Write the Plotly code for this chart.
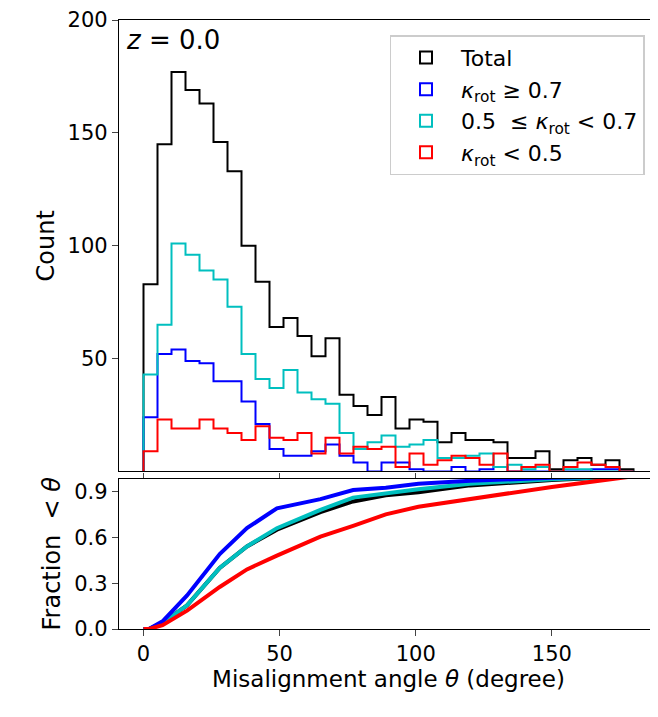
import numpy as np
import plotly.graph_objects as go
from plotly.subplots import make_subplots

# histogram bins: 35 bins between 0 and 180 degrees
bin_edges = np.linspace(0, 180, 36)

total = [83, 145, 177, 169, 163, 146, 133, 100, 84, 64, 68, 60, 51, 59, 34, 29, 25,
         33, 19, 23, 22, 13, 17, 14, 14, 13, 6, 6, 9, 1, 5, 6, 3, 5, 1]
high_kappa = [24, 52, 54, 49, 48, 40, 40, 31, 21, 10, 7, 7, 9, 12, 7, 4, 0,
              4, 4, 1, 0, 0, 2, 0, 1, 2, 0, 0, 0, 0, 0, 0, 1, 1, 0]
mid_kappa = [43, 65, 101, 96, 89, 85, 73, 52, 41, 37, 45, 35, 32, 30, 17, 10, 13,
             16, 11, 12, 14, 6, 6, 7, 8, 2, 3, 1, 2, 0, 1, 1, 0, 0, 0]
low_kappa = [9, 23, 19, 19, 23, 19, 17, 14, 20, 15, 14, 17, 8, 15, 8, 11, 10,
             11, 2, 8, 3, 5, 7, 6, 3, 8, 0, 2, 3, 0, 2, 4, 3, 2, 0]

# cumulative fractions
cdf_angle = [0, 2, 7, 16, 28, 38, 49, 65, 77, 89, 101, 120, 150, 180]
cdf_total = [0, 0, 0.04, 0.155, 0.40, 0.54, 0.65, 0.765, 0.835, 0.875, 0.895, 0.94, 0.975, 1.0]
cdf_high = [0, 0, 0.05, 0.22, 0.49, 0.66, 0.79, 0.85, 0.91, 0.925, 0.95, 0.97, 0.99, 1.0]
cdf_mid = [0, 0, 0.04, 0.155, 0.40, 0.54, 0.66, 0.78, 0.86, 0.89, 0.915, 0.95, 0.98, 1.0]
cdf_low = [0, 0, 0.025, 0.12, 0.275, 0.39, 0.48, 0.605, 0.675, 0.75, 0.80, 0.85, 0.93, 1.0]

labels = ['Total', '<i>κ</i><sub>rot</sub> ≥ 0.7',
          '0.5  ≤ <i>κ</i><sub>rot</sub> < 0.7', '<i>κ</i><sub>rot</sub> < 0.5']
colors = ['black', '#0000ff', '#00bfbf', '#ff0000']

fig = make_subplots(rows=2, cols=1, shared_xaxes=True, vertical_spacing=0.0115,
                    row_heights=[0.75, 0.25])

for counts, name, color in zip([total, high_kappa, mid_kappa, low_kappa], labels, colors):
    # step outline like matplotlib histtype='step'
    xs = [bin_edges[0]] + list(bin_edges)
    ys = [0] + list(counts) + [0]
    fig.add_trace(go.Scatter(x=xs, y=ys, mode='lines', line=dict(color=color, width=2, shape='hv'),
                             showlegend=False), row=1, col=1)
    # legend entry with rectangle patch
    fig.add_trace(go.Bar(x=[None], y=[None], name=name,
                         marker=dict(color='white', line=dict(color=color, width=2))), row=1, col=1)

for cdf, color in zip([cdf_total, cdf_mid, cdf_high, cdf_low], [colors[0], colors[2], colors[1], colors[3]]):
    fig.add_trace(go.Scatter(x=cdf_angle, y=cdf, mode='lines', line=dict(color=color, width=4),
                             showlegend=False), row=2, col=1)

axis_style = dict(showline=True, linecolor='black', linewidth=1.3, mirror=True, ticks='outside',
                  ticklen=6, tickwidth=1.3, showgrid=False, zeroline=False, automargin=False)
fig.update_xaxes(range=[-9, 189], tickvals=[0, 50, 100, 150], **axis_style)
fig.update_xaxes(title_text='Misalignment angle <i>θ</i> (degree)', title_standoff=4,
                 title_font_size=23, row=2, col=1)
fig.update_yaxes(**axis_style)
fig.update_yaxes(range=[0, 200], tickvals=[50, 100, 150, 200], title_text='Count',
                 title_standoff=6, title_font_size=24, row=1, col=1)
fig.update_yaxes(range=[0, 0.985], tickvals=[0, 0.3, 0.6, 0.9], tickformat='.1f',
                 title_text='Fraction  < <i>θ</i>', title_standoff=6, title_font_size=24,
                 row=2, col=1)

fig.add_annotation(text='<i>z</i> = 0.0', xref='paper', yref='paper', x=0.01, y=0.995,
                   xanchor='left', yanchor='top', showarrow=False, font=dict(size=26))

fig.update_layout(
    width=658, height=717,
    margin=dict(l=111, r=8, t=12, b=96),
    plot_bgcolor='white', paper_bgcolor='white',
    font=dict(family='DejaVu Sans', size=21, color='black'),
    barmode='overlay',
    legend=dict(x=0.975, y=0.975, xanchor='right', yanchor='top', bgcolor='white',
                bordercolor='#cccccc', borderwidth=1.5, font=dict(size=22),
                itemwidth=60, tracegroupgap=14, itemsizing='constant'),
)

fig.write_html("out.html")
